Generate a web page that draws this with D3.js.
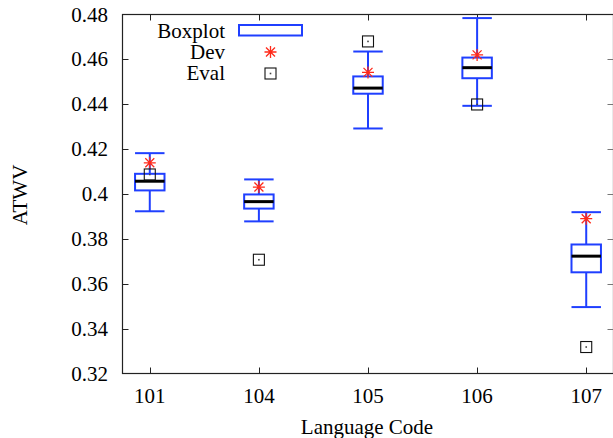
<!DOCTYPE html>
<html>
<head>
<meta charset="utf-8">
<script src="https://cdn.jsdelivr.net/npm/d3@7/dist/d3.min.js"></script>
<style>
  html, body { margin: 0; padding: 0; background: #fff; }
  svg { display: block; }
  text { font-family: "Liberation Serif", "DejaVu Serif", serif; fill: #000; }
</style>
</head>
<body>
<svg id="chart" width="613" height="438"></svg>
<script>
// ---- data ----
const categories = ["101", "104", "105", "106", "107"];
const whiskerLow  = [0.3923, 0.3878, 0.4292, 0.4393, 0.3496];
const boxLow      = [0.4016, 0.3935, 0.4447, 0.4516, 0.3651];
const median      = [0.4057, 0.3966, 0.4472, 0.4563, 0.3723];
const boxHigh     = [0.4090, 0.3998, 0.4524, 0.4608, 0.3775];
const whiskerHigh = [0.4182, 0.4065, 0.4635, 0.4784, 0.3919];
const devValues   = [0.4139, 0.4031, 0.4542, 0.4620, 0.3890];
const evalValues  = [0.4087, 0.3707, 0.4680, 0.4399, 0.3318];
const yTicks = [0.32, 0.34, 0.36, 0.38, 0.40, 0.42, 0.44, 0.46, 0.48];
const yTickLabels = ["0.32", "0.34", "0.36", "0.38", "0.4", "0.42", "0.44", "0.46", "0.48"];

// ---- layout ----
const svg = d3.select("#chart");
const pLeft = 122.5, pRight = 613.5, pTop = 14.5, pBottom = 373.5;
const blue = "#1f3fff", red = "#ff2a1a";

const x = d3.scaleLinear().domain([-0.25, 4.25]).range([pLeft, pRight]);
const y = d3.scaleLinear().domain([0.32, 0.48]).range([pBottom, pTop]);
const bw = x(0.135) - x(0);

const g = svg.append("g");

// frame
g.append("rect").attr("x", pLeft).attr("y", pTop).attr("width", pRight - pLeft).attr("height", pBottom - pTop)
  .attr("fill", "none").attr("stroke", "#222").attr("stroke-width", 1.2);

// y ticks (left, black; right, gray)
yTicks.forEach((t, i) => {
  const yy = Math.round(y(t)) + 0.5;
  if (i > 0 && i < yTicks.length - 1) {
    g.append("line").attr("x1", pLeft).attr("x2", pLeft + 6).attr("y1", yy).attr("y2", yy).attr("stroke", "#222");
    g.append("line").attr("x1", pRight - 6).attr("x2", pRight).attr("y1", yy).attr("y2", yy).attr("stroke", "#777");
  }
  g.append("text").attr("x", 108).attr("y", y(t) + 7).attr("text-anchor", "end")
    .attr("font-size", 21).text(yTickLabels[i]);
});

// x ticks
categories.forEach((c, i) => {
  const xx = Math.round(x(i)) + 0.5;
  g.append("line").attr("x1", xx).attr("x2", xx).attr("y1", pBottom).attr("y2", pBottom - 6).attr("stroke", "#222");
  g.append("line").attr("x1", xx).attr("x2", xx).attr("y1", pTop).attr("y2", pTop + 6).attr("stroke", "#222");
  g.append("text").attr("x", x(i)).attr("y", 403).attr("text-anchor", "middle")
    .attr("font-size", 21).text(c);
});

// boxes
categories.forEach((c, i) => {
  const cx = x(i);
  const bg = g.append("g");
  bg.append("line").attr("x1", cx).attr("x2", cx).attr("y1", y(boxHigh[i])).attr("y2", y(whiskerHigh[i]))
    .attr("stroke", blue).attr("stroke-width", 2);
  bg.append("line").attr("x1", cx).attr("x2", cx).attr("y1", y(boxLow[i])).attr("y2", y(whiskerLow[i]))
    .attr("stroke", blue).attr("stroke-width", 2);
  [whiskerHigh[i], whiskerLow[i]].forEach(v => {
    bg.append("line").attr("x1", cx - bw).attr("x2", cx + bw).attr("y1", y(v)).attr("y2", y(v))
      .attr("stroke", blue).attr("stroke-width", 2);
  });
  bg.append("rect").attr("x", cx - bw).attr("y", y(boxHigh[i])).attr("width", 2 * bw)
    .attr("height", y(boxLow[i]) - y(boxHigh[i])).attr("fill", "#fff")
    .attr("stroke", blue).attr("stroke-width", 2);
  bg.append("line").attr("x1", cx - bw).attr("x2", cx + bw).attr("y1", y(median[i])).attr("y2", y(median[i]))
    .attr("stroke", "#000").attr("stroke-width", 3);
});

function star(sel, cx, cy, r) {
  const d = `M${cx - r},${cy}L${cx + r},${cy}M${cx},${cy - r}L${cx},${cy + r}` +
    `M${cx - r * 0.75},${cy - r * 0.75}L${cx + r * 0.75},${cy + r * 0.75}` +
    `M${cx - r * 0.75},${cy + r * 0.75}L${cx + r * 0.75},${cy - r * 0.75}`;
  sel.append("path").attr("d", d).attr("stroke", red).attr("stroke-width", 1.3).attr("fill", "none");
}
function square(sel, cx, cy, s) {
  sel.append("rect").attr("x", cx - s).attr("y", cy - s).attr("width", 2 * s).attr("height", 2 * s)
    .attr("fill", "none").attr("stroke", "#111").attr("stroke-width", 1.1);
  sel.append("rect").attr("x", cx - 0.8).attr("y", cy - 0.8).attr("width", 1.6).attr("height", 1.6)
    .attr("fill", "#444");
}

devValues.forEach((v, i) => star(g, x(i), y(v), 6));
evalValues.forEach((v, i) => square(g, x(i), y(v), 5.5));

// legend
const lg = g.append("g");
lg.append("text").attr("x", 225).attr("y", 38).attr("text-anchor", "end").attr("font-size", 21).text("Boxplot");
lg.append("rect").attr("x", 239).attr("y", 25).attr("width", 63).attr("height", 10.5)
  .attr("fill", "none").attr("stroke", blue).attr("stroke-width", 2);
lg.append("text").attr("x", 225).attr("y", 59).attr("text-anchor", "end").attr("font-size", 21).text("Dev");
star(lg, 270.5, 52, 6);
lg.append("text").attr("x", 225).attr("y", 80).attr("text-anchor", "end").attr("font-size", 21).text("Eval");
square(lg, 270.5, 73.5, 5.5);

// axis titles
g.append("text").attr("transform", "translate(27,195) rotate(-90)").attr("text-anchor", "middle")
  .attr("font-size", 21).text("ATWV");
g.append("text").attr("x", 367).attr("y", 434).attr("text-anchor", "middle")
  .attr("font-size", 21).text("Language Code");
</script>
</body>
</html>
